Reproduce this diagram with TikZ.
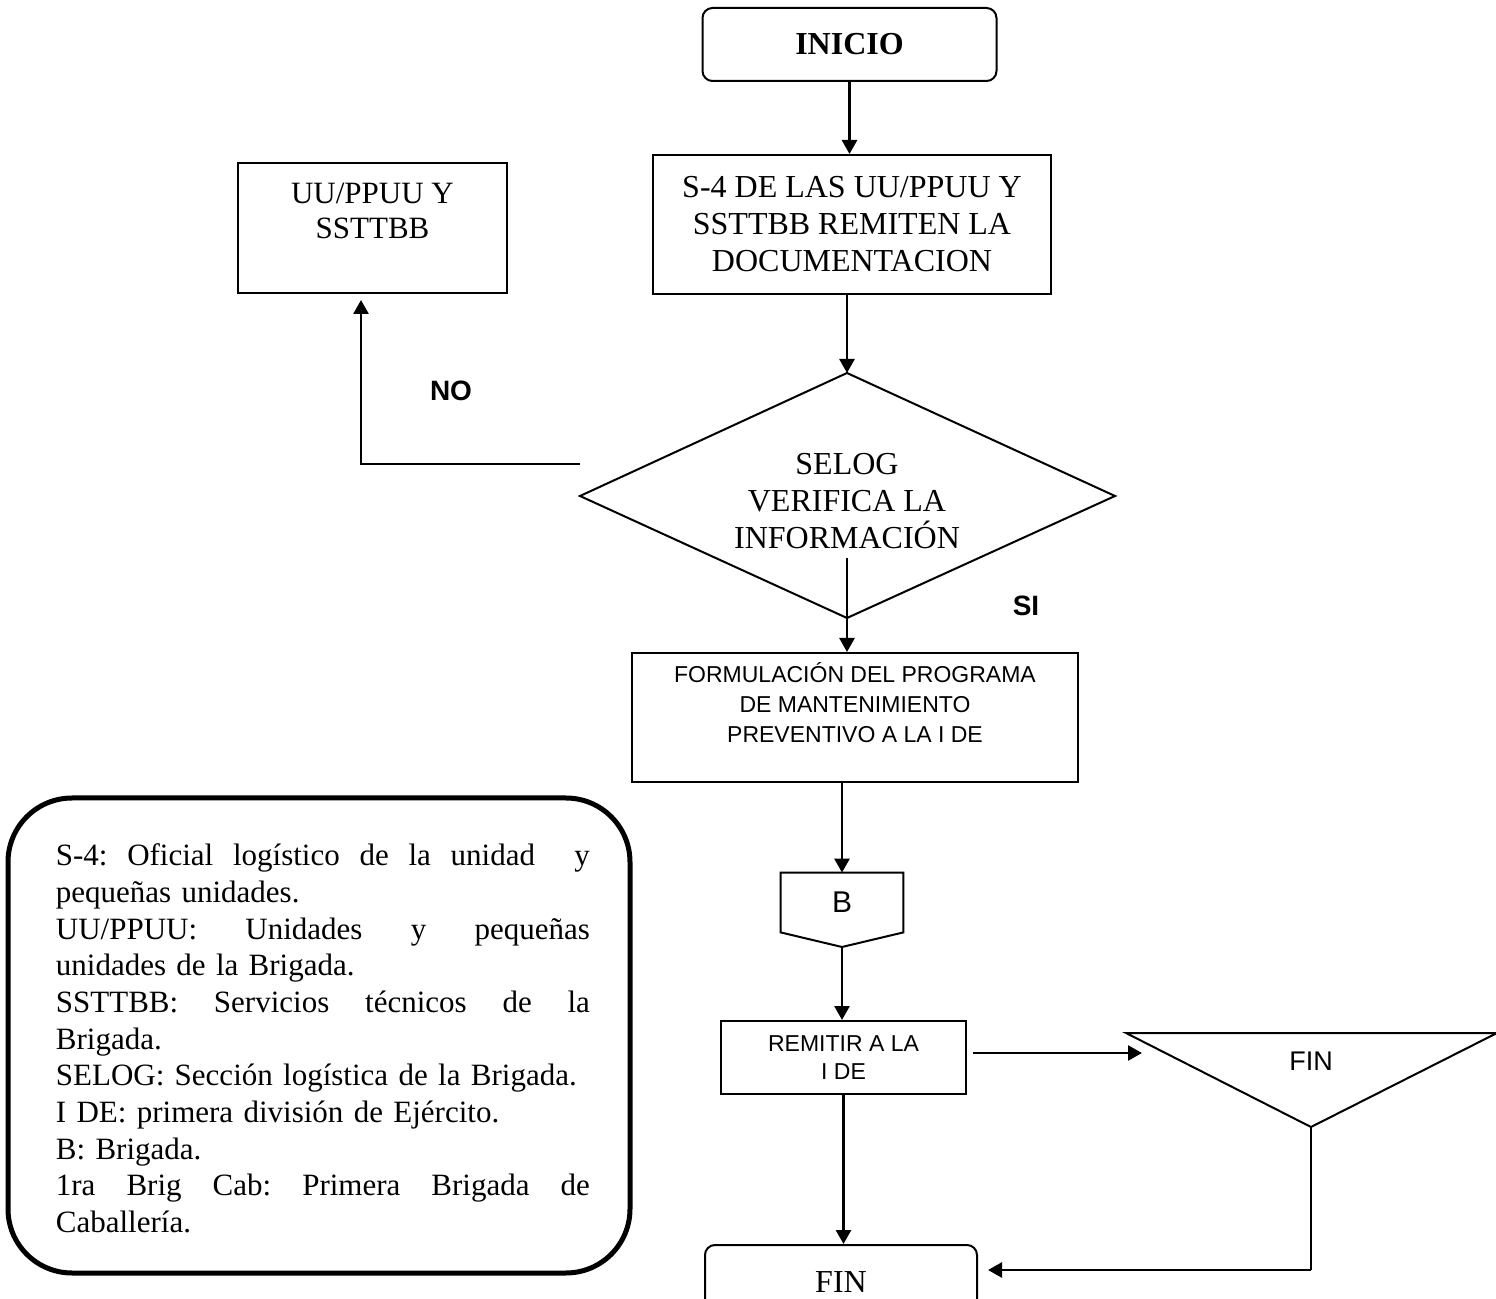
\documentclass[tikz,border=0pt]{standalone}
\usepackage{fontspec}
\setmainfont{Liberation Serif}
\setsansfont{Liberation Sans}
\usetikzlibrary{arrows.meta,calc}

% full-width justified line for the legend (font glue restored so it can stretch)
\newcommand\jline[1]{\makebox[\hsize][s]{\spaceskip=0pt\xspaceskip=0pt #1}}

\tikzset{
  box/.style={draw, line width=1pt, inner sep=0pt, align=center},
  shapeline/.style={line width=1pt},
  arr/.style={line width=1.35pt, -{Triangle[length=7pt,width=7.5pt]}},
  serifbig/.style={font=\fontsize{16}{18.5}\selectfont},
  sanssmall/.style={font=\sffamily\fontsize{11.5}{15}\selectfont},
  answer/.style={font=\sffamily\bfseries\fontsize{14}{16}\selectfont},
}

\begin{document}
\begin{tikzpicture}[x=0.5pt,y=-0.5pt]
\useasboundingbox (0,0) rectangle (1496,1299);
\fill[white] (0,0) rectangle (1496,1299);
\clip (0,0) rectangle (1496,1299);

% ---- process boxes ----
\node[box, rounded corners=5pt, minimum width=147pt, minimum height=36.5pt,
      font=\bfseries\fontsize{16}{18.5}\selectfont] (ini) at (849.5,44.5) {INICIO};

\node[box, serifbig, minimum width=199pt, minimum height=69.5pt] (s4) at (852,224.5)
  {S-4 DE LAS UU/PPUU Y\\SSTTBB REMITEN LA\\DOCUMENTACION};

\node[box, minimum width=134.5pt, minimum height=65pt,
      font=\fontsize{15.5}{17.5}\selectfont] (uu) at (372.5,228)
  {UU/PPUU Y\\SSTTBB\\\mbox{}};

% decision
\coordinate (dt) at (847,373);
\coordinate (dl) at (580,496);
\coordinate (dr) at (1115,496);
\coordinate (db) at (847,618);
\draw[shapeline] (dt) -- (dr) -- (db) -- (dl) -- cycle;
\node[align=center, serifbig, inner sep=0pt] (dec) at (847,501)
  {SELOG\\VERIFICA LA\\INFORMACIÓN};

\node[box, sanssmall, minimum width=223pt, minimum height=64.5pt] (formul) at (855,717.5)
  {FORMULACIÓN DEL PROGRAMA\\DE MANTENIMIENTO\\PREVENTIVO A LA I DE\\\mbox{}};

% off-page connector
\node[inner sep=0pt, minimum width=61pt, minimum height=29.5pt,
      font=\sffamily\fontsize{15}{18}\selectfont] (b) at (842,902.5) {B};
\coordinate (bpt) at (842,947);
\draw[shapeline] (b.south west) -- (b.north west) -- (b.north east) -- (b.south east) -- (bpt) -- cycle;

\node[box, font=\sffamily\fontsize{11.5}{14}\selectfont, minimum width=122.5pt,
      minimum height=36.5pt] (rem) at (843.5,1057.5) {REMITIR A LA\\I DE};

% terminal triangle
\coordinate (tl) at (1126,1033);
\coordinate (tr) at (1497,1033);
\coordinate (tb) at (1311,1127);
\draw[shapeline] (tl) -- (tr) -- (tb) -- cycle;
\node[font=\sffamily\fontsize{13.5}{16}\selectfont] (fintri) at (1311,1061) {FIN};

\node[box, rounded corners=5pt, serifbig, minimum width=136pt, minimum height=37.5pt]
  (fin) at (841,1282.5) {FIN};

% ---- connectors ----
\draw[arr] (ini.south) -- (ini.south |- s4.north);
\draw[arr] (dt |- s4.south) -- (dt);
\coordinate (dout) at (847,558);
\draw[arr] (dout) -- (dout |- formul.north);

\coordinate (noout) at (580,464);
\coordinate (noturn) at (361,464);
\draw[arr, shorten >=3pt] (noout) -- (noturn) -- (noturn |- uu.south);
\node[answer] (no) at (451,391) {NO};
\node[answer] (si) at (1026,606) {SI};

\draw[arr] (b.north |- formul.south) -- (b.north);
\draw[arr] (bpt) -- (bpt |- rem.north);

\coordinate (trin) at (1142,1053);
\draw[arr] ($(rem.east |- trin)+(6,0)$) -- (trin);
\draw[arr] (rem.south) -- (rem.south |- fin.north);

\coordinate (finin) at (988,1270);
\draw[line width=0.8pt] (tb) -- (tb |- finin);
\draw[arr] (tb |- finin) -- (finin);

% ---- legend ----
\draw[line width=2.5pt, rounded corners=32pt] (8,798) rectangle (630,1273);
\node[anchor=base west, inner sep=0pt, text width=267pt, align=left,
      font=\fontsize{15.5}{18.35}\selectfont\frenchspacing] (legend) at (55.5,865.6)
  {\jline{S-4: Oficial logístico de la unidad\ \ y}\\
   pequeñas unidades.\\
   \jline{UU/PPUU: Unidades y pequeñas}\\
   unidades de la Brigada.\\
   \jline{SSTTBB: Servicios técnicos de la}\\
   Brigada.\\
   SELOG: Sección logística de la Brigada.\\
   I DE: primera división de Ejército.\\
   B: Brigada.\\
   \jline{1ra Brig Cab: Primera Brigada de}\\
   Caballería.};
\end{tikzpicture}
\end{document}
